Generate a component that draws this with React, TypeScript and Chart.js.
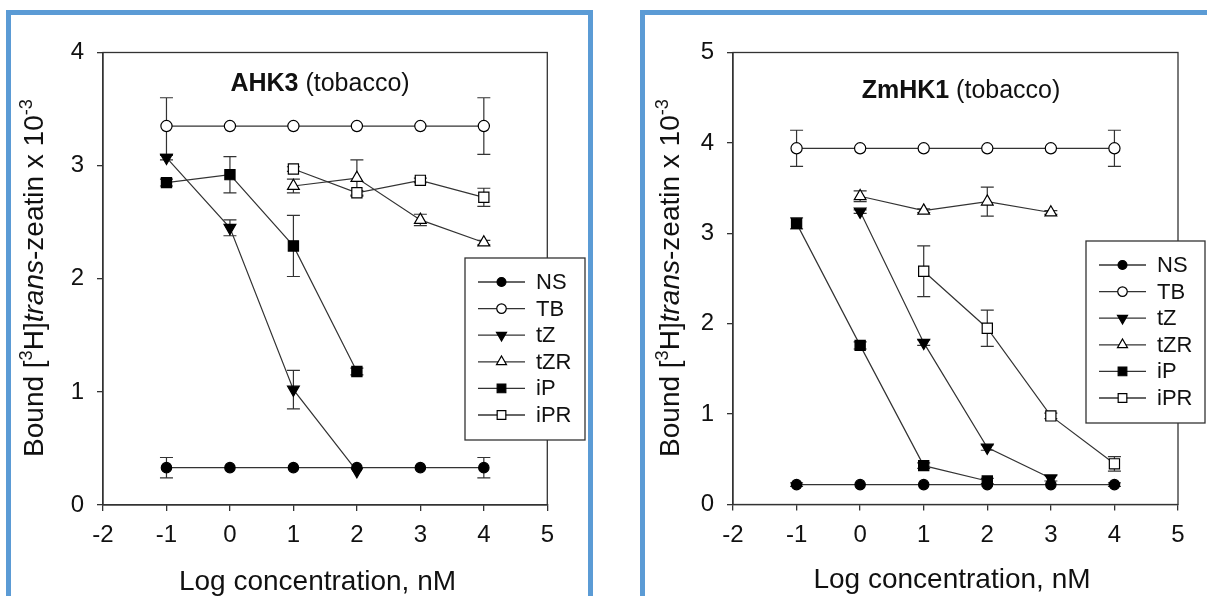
import React, { useEffect, useRef } from "react";
import { Chart, registerables } from "chart.js";

Chart.register(...registerables);

const FONT = '"Liberation Sans", Arial, Helvetica, sans-serif';
const INK = "#111111";
const LINE = "#333333";
const PANEL_BLUE = "#5B9BD5";

// ---------- data ----------
const CONC = [-1, 0, 1, 2, 3, 4];
const X_TICKS = [-2, -1, 0, 1, 2, 3, 4, 5];
const SERIES = ["NS", "TB", "tZ", "tZR", "iP", "iPR"];

// AHK3 (tobacco)
const AHK3_Y_TICKS = [0, 1, 2, 3, 4];
const AHK3_NS = [0.33, 0.33, 0.33, 0.33, 0.33, 0.33];
const AHK3_NS_ERR = [0.09, 0, 0, 0, 0, 0.09];
const AHK3_TB = [3.35, 3.35, 3.35, 3.35, 3.35, 3.35];
const AHK3_TB_ERR = [0.25, 0, 0, 0, 0, 0.25];
const AHK3_TZ = [3.07, 2.45, 1.02, 0.3, null, null];
const AHK3_TZ_ERR = [0.02, 0.07, 0.17, 0, 0, 0];
const AHK3_TZR = [null, null, 2.82, 2.89, 2.52, 2.32];
const AHK3_TZR_ERR = [0, 0, 0.06, 0.16, 0.05, 0.02];
const AHK3_IP = [2.85, 2.92, 2.29, 1.18, null, null];
const AHK3_IP_ERR = [0.03, 0.16, 0.27, 0.03, 0, 0];
const AHK3_IPR = [null, null, 2.97, 2.76, 2.87, 2.72];
const AHK3_IPR_ERR = [0, 0, 0.02, 0.02, 0.02, 0.08];

// ZmHK1 (tobacco)
const ZMHK1_Y_TICKS = [0, 1, 2, 3, 4, 5];
const ZMHK1_NS = [0.22, 0.22, 0.22, 0.22, 0.22, 0.22];
const ZMHK1_NS_ERR = [0.02, 0, 0, 0, 0, 0.02];
const ZMHK1_TB = [3.94, 3.94, 3.94, 3.94, 3.94, 3.94];
const ZMHK1_TB_ERR = [0.2, 0, 0, 0, 0, 0.2];
const ZMHK1_TZ = [null, 3.24, 1.79, 0.63, 0.29, null];
const ZMHK1_TZ_ERR = [0, 0.02, 0.03, 0.03, 0.03, 0];
const ZMHK1_TZR = [null, 3.41, 3.25, 3.35, 3.23, null];
const ZMHK1_TZR_ERR = [0, 0.06, 0.02, 0.16, 0.02, 0];
const ZMHK1_IP = [3.11, 1.76, 0.43, 0.26, null, null];
const ZMHK1_IP_ERR = [0.06, 0.04, 0.03, 0.03, 0, 0];
const ZMHK1_IPR = [null, null, 2.58, 1.95, 0.98, 0.45];
const ZMHK1_IPR_ERR = [0, 0, 0.28, 0.2, 0.03, 0.08];

// ---------- marker styles ----------
type MarkerStyle = { shape: "circle" | "triangle" | "rect"; filled: boolean; rotation: number; radius: number };
const MARKERS: Record<string, MarkerStyle> = {
  NS: { shape: "circle", filled: true, rotation: 0, radius: 5.2 },
  TB: { shape: "circle", filled: false, rotation: 0, radius: 5.6 },
  tZ: { shape: "triangle", filled: true, rotation: 180, radius: 6.8 },
  tZR: { shape: "triangle", filled: false, rotation: 0, radius: 6.8 },
  iP: { shape: "rect", filled: true, rotation: 0, radius: 7.2 },
  iPR: { shape: "rect", filled: false, rotation: 0, radius: 7.2 },
};

type PanelCfg = {
  titleBold: string;
  titleRest: string;
  yMax: number;
  yTicks: number[];
  values: (number | null)[][];
  errors: number[][];
  W: number;
  H: number;
  panelLeft: number;
  panelWidth: number;
  area: { left: number; right: number; top: number; bottom: number };
  title: { x: number; y: number };
  xTitle: { x: number; y: number };
  yTitle: { x: number; y: number };
  legend: { x: number; y: number; w: number; h: number };
};

const PANELS: PanelCfg[] = [
  {
    titleBold: "AHK3",
    titleRest: " (tobacco)",
    yMax: 4,
    yTicks: AHK3_Y_TICKS,
    values: [AHK3_NS, AHK3_TB, AHK3_TZ, AHK3_TZR, AHK3_IP, AHK3_IPR],
    errors: [AHK3_NS_ERR, AHK3_TB_ERR, AHK3_TZ_ERR, AHK3_TZR_ERR, AHK3_IP_ERR, AHK3_IPR_ERR],
    W: 577,
    H: 581,
    panelLeft: 6,
    panelWidth: 587,
    area: { left: 92, right: 536.3, top: 37.5, bottom: 490 },
    title: { x: 309, y: 76 },
    xTitle: { x: 306.5, y: 575 },
    yTitle: { x: 32, y: 263 },
    legend: { x: 454, y: 243, w: 120, h: 182 },
  },
  {
    titleBold: "ZmHK1",
    titleRest: " (tobacco)",
    yMax: 5,
    yTicks: ZMHK1_Y_TICKS,
    values: [ZMHK1_NS, ZMHK1_TB, ZMHK1_TZ, ZMHK1_TZR, ZMHK1_IP, ZMHK1_IPR],
    errors: [ZMHK1_NS_ERR, ZMHK1_TB_ERR, ZMHK1_TZ_ERR, ZMHK1_TZR_ERR, ZMHK1_IP_ERR, ZMHK1_IPR_ERR],
    W: 562,
    H: 581,
    panelLeft: 640,
    panelWidth: 700,
    area: { left: 88, right: 533, top: 37.5, bottom: 489.5 },
    title: { x: 316, y: 83 },
    xTitle: { x: 307, y: 573 },
    yTitle: { x: 34, y: 263 },
    legend: { x: 441, y: 226, w: 119, h: 182 },
  },
];

// ---------- drawing helpers ----------
function drawMarker(ctx: CanvasRenderingContext2D, m: MarkerStyle, x: number, y: number, scale: number) {
  const r = m.radius * scale;
  ctx.save();
  ctx.beginPath();
  if (m.shape === "circle") {
    ctx.arc(x, y, r, 0, Math.PI * 2);
  } else if (m.shape === "rect") {
    const s = r * Math.SQRT1_2;
    ctx.rect(x - s, y - s, 2 * s, 2 * s);
  } else {
    let rad = (m.rotation * Math.PI) / 180;
    ctx.moveTo(x + Math.sin(rad) * r, y - Math.cos(rad) * r);
    rad += (2 * Math.PI) / 3;
    ctx.lineTo(x + Math.sin(rad) * r, y - Math.cos(rad) * r);
    rad += (2 * Math.PI) / 3;
    ctx.lineTo(x + Math.sin(rad) * r, y - Math.cos(rad) * r);
    ctx.closePath();
  }
  ctx.fillStyle = m.filled ? "#000" : "#fff";
  ctx.fill();
  ctx.lineWidth = 1.2;
  ctx.strokeStyle = "#000";
  ctx.stroke();
  ctx.restore();
}

type Run = { t: string; bold?: boolean; italic?: boolean; sup?: boolean };

function runFont(r: Run, size: number) {
  const s = r.sup ? size * 0.65 : size;
  return `${r.italic ? "italic " : ""}${r.bold ? "bold " : ""}${s}px ${FONT}`;
}

function drawRuns(ctx: CanvasRenderingContext2D, runs: Run[], size: number) {
  let total = 0;
  for (const r of runs) {
    ctx.font = runFont(r, size);
    total += ctx.measureText(r.t).width;
  }
  let x = -total / 2;
  ctx.textBaseline = "alphabetic";
  ctx.textAlign = "left";
  for (const r of runs) {
    ctx.font = runFont(r, size);
    ctx.fillText(r.t, x, r.sup ? -size * 0.38 : 0);
    x += ctx.measureText(r.t).width;
  }
}

function makeOverlay(cfg: PanelCfg) {
  return {
    id: "overlay",
    beforeDatasetsDraw(chart: any) {
      const ctx: CanvasRenderingContext2D = chart.ctx;
      const a = chart.chartArea;
      const xs = chart.scales.x;
      const ys = chart.scales.y;
      ctx.save();
      ctx.strokeStyle = LINE;
      ctx.lineWidth = 1.3;
      ctx.strokeRect(a.left, a.top, a.right - a.left, a.bottom - a.top);
      ctx.lineWidth = 1.2;
      ctx.strokeStyle = LINE;
      cfg.values.forEach((vals, si) => {
        const errs = cfg.errors[si];
        vals.forEach((v, i) => {
          const e = errs[i];
          if (v === null || !e) return;
          const px = xs.getPixelForValue(CONC[i]);
          const t = ys.getPixelForValue(v + e);
          const b = ys.getPixelForValue(v - e);
          ctx.beginPath();
          ctx.moveTo(px, t);
          ctx.lineTo(px, b);
          ctx.moveTo(px - 6.5, t);
          ctx.lineTo(px + 6.5, t);
          ctx.moveTo(px - 6.5, b);
          ctx.lineTo(px + 6.5, b);
          ctx.stroke();
        });
      });
      ctx.restore();
    },
    afterDraw(chart: any) {
      const ctx: CanvasRenderingContext2D = chart.ctx;
      ctx.save();
      ctx.fillStyle = INK;
      ctx.save();
      ctx.translate(cfg.title.x, cfg.title.y);
      drawRuns(ctx, [{ t: cfg.titleBold, bold: true }, { t: cfg.titleRest }], 25);
      ctx.restore();
      ctx.save();
      ctx.translate(cfg.xTitle.x, cfg.xTitle.y);
      drawRuns(ctx, [{ t: "Log concentration, nM" }], 28);
      ctx.restore();
      ctx.save();
      ctx.translate(cfg.yTitle.x, cfg.yTitle.y);
      ctx.rotate(-Math.PI / 2);
      drawRuns(
        ctx,
        [
          { t: "Bound [" },
          { t: "3", sup: true },
          { t: "H]" },
          { t: "trans", italic: true },
          { t: "-zeatin x 10" },
          { t: "-3", sup: true },
        ],
        28
      );
      ctx.restore();
      const L = cfg.legend;
      ctx.fillStyle = "#fff";
      ctx.fillRect(L.x, L.y, L.w, L.h);
      ctx.strokeStyle = LINE;
      ctx.lineWidth = 1.3;
      ctx.strokeRect(L.x, L.y, L.w, L.h);
      chart.data.datasets.forEach((ds: any, i: number) => {
        const y = L.y + 24 + i * 26.6;
        ctx.strokeStyle = LINE;
        ctx.lineWidth = 1.3;
        ctx.beginPath();
        ctx.moveTo(L.x + 13, y);
        ctx.lineTo(L.x + 60, y);
        ctx.stroke();
        drawMarker(ctx, MARKERS[ds.label], L.x + 36.5, y, 0.85);
        ctx.fillStyle = INK;
        ctx.font = `22px ${FONT}`;
        ctx.textAlign = "left";
        ctx.textBaseline = "middle";
        ctx.fillText(ds.label, L.x + 71, y + 1);
      });
      ctx.restore();
    },
  };
}

function buildChart(canvas: HTMLCanvasElement, cfg: PanelCfg) {
  const datasets = SERIES.map((name, si) => {
    const m = MARKERS[name];
    return {
      label: name,
      data: CONC.map((x, i) => ({ x, y: cfg.values[si][i] })),
      borderColor: LINE,
      borderWidth: 1.2,
      pointStyle: m.shape,
      pointRadius: m.radius,
      pointRotation: m.rotation,
      pointBackgroundColor: m.filled ? "#000" : "#fff",
      pointBorderColor: "#000",
      pointBorderWidth: 1.2,
      tension: 0,
      fill: false,
      spanGaps: false,
    };
  });
  const tickFont = { family: FONT, size: 24 };
  return new Chart(canvas, {
    type: "line",
    data: { datasets },
    options: {
      animation: false,
      responsive: false,
      devicePixelRatio: 1,
      layout: {
        padding: { left: 0, top: cfg.area.top, right: cfg.W - cfg.area.right, bottom: 0 },
      },
      plugins: { legend: { display: false }, title: { display: false }, tooltip: { enabled: false } },
      scales: {
        x: {
          type: "linear",
          min: -2,
          max: 5,
          afterBuildTicks: (s: any) => {
            s.ticks = X_TICKS.map((v) => ({ value: v }));
          },
          afterFit: (s: any) => {
            s.height = cfg.H - cfg.area.bottom;
          },
          ticks: {
            font: tickFont,
            color: INK,
            padding: 10,
            autoSkip: false,
            maxRotation: 0,
            callback: (v: any) => String(v),
          },
          grid: { drawOnChartArea: false, drawTicks: true, tickLength: 6, color: LINE, lineWidth: 1.3 },
          border: { display: true, color: LINE, width: 1.3 },
        },
        y: {
          type: "linear",
          min: 0,
          max: cfg.yMax,
          afterBuildTicks: (s: any) => {
            s.ticks = cfg.yTicks.map((v) => ({ value: v }));
          },
          afterFit: (s: any) => {
            s.width = cfg.area.left;
          },
          ticks: {
            font: tickFont,
            color: INK,
            padding: 13,
            callback: (v: any) => String(v),
          },
          grid: { drawOnChartArea: false, drawTicks: true, tickLength: 6, color: LINE, lineWidth: 1.3 },
          border: { display: true, color: LINE, width: 1.3 },
        },
      },
    } as any,
    plugins: [makeOverlay(cfg)],
  });
}

function Panel({ cfg }: { cfg: PanelCfg }) {
  const ref = useRef<HTMLCanvasElement>(null);
  useEffect(() => {
    const chart = buildChart(ref.current as HTMLCanvasElement, cfg);
    return () => chart.destroy();
  }, [cfg]);
  return (
    <div
      style={{
        position: "absolute",
        left: cfg.panelLeft,
        top: 10,
        width: cfg.panelWidth,
        height: 700,
        boxSizing: "border-box",
        border: `5px solid ${PANEL_BLUE}`,
        borderBottom: "none",
        background: "#fff",
      }}
    >
      <canvas
        ref={ref}
        width={cfg.W}
        height={cfg.H}
        style={{ display: "block", width: cfg.W, height: cfg.H }}
      />
    </div>
  );
}

export default function App() {
  return (
    <div
      style={{
        position: "fixed",
        left: 0,
        top: 0,
        width: 1207,
        height: 596,
        overflow: "hidden",
        background: "#fff",
      }}
    >
      {PANELS.map((p) => (
        <Panel key={p.titleBold} cfg={p} />
      ))}
    </div>
  );
}
